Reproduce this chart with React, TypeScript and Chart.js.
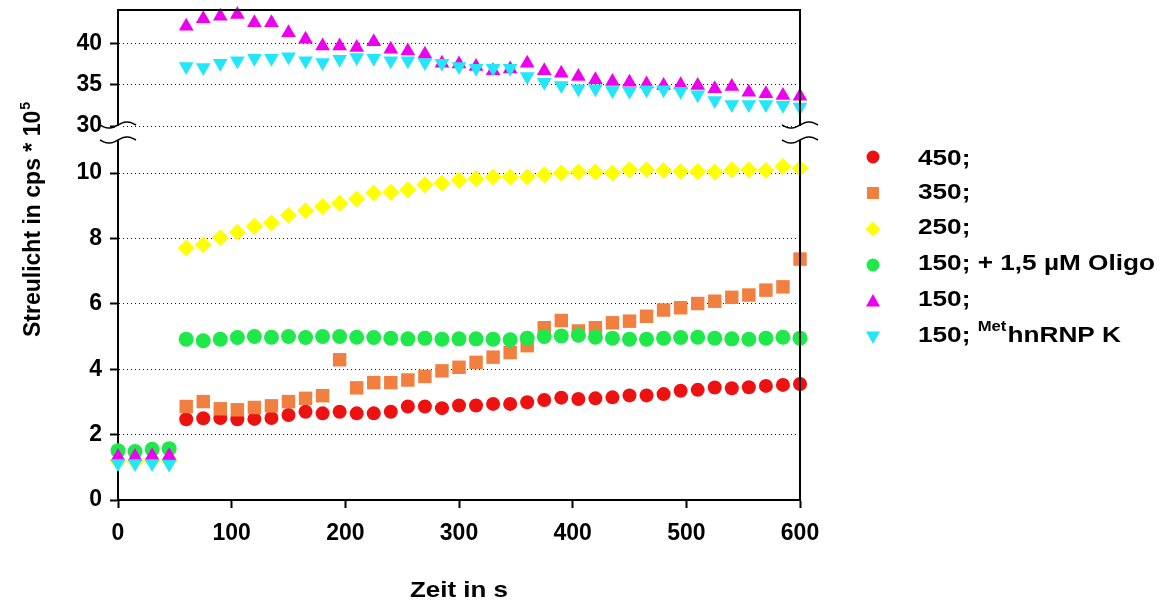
import React, { useEffect, useRef } from 'react';
import { Chart, registerables } from 'chart.js';

Chart.register(...registerables);

const FONT = '"Liberation Sans", Arial, Helvetica, sans-serif';

// time axis (s)
const timesEarly = [0, 15, 30, 45];
const times = [60, 75, 90, 105, 120, 135, 150, 165, 180, 195, 210, 225, 240, 255, 270, 285, 300, 315, 330, 345, 360, 375, 390, 405, 420, 435, 450, 465, 480, 495, 510, 525, 540, 555, 570, 585, 600];

// series values (Streulicht in cps * 10^5)
const red450 = [2.47, 2.5, 2.51, 2.47, 2.48, 2.51, 2.6, 2.7, 2.65, 2.7, 2.65, 2.65, 2.7, 2.86, 2.86, 2.81, 2.89, 2.89, 2.94, 2.94, 2.99, 3.06, 3.13, 3.09, 3.11, 3.14, 3.2, 3.2, 3.24, 3.34, 3.37, 3.44, 3.42, 3.45, 3.49, 3.52, 3.55];
const orange350 = [2.86, 3.01, 2.79, 2.76, 2.83, 2.88, 3.01, 3.11, 3.19, 4.29, 3.43, 3.59, 3.59, 3.67, 3.78, 3.95, 4.06, 4.21, 4.37, 4.51, 4.72, 5.27, 5.49, 5.17, 5.27, 5.42, 5.47, 5.62, 5.81, 5.88, 6.01, 6.08, 6.2, 6.27, 6.42, 6.52, 7.37];
const yellow250 = [7.71, 7.81, 8.02, 8.19, 8.37, 8.47, 8.71, 8.85, 8.98, 9.08, 9.21, 9.39, 9.41, 9.49, 9.64, 9.69, 9.78, 9.83, 9.88, 9.88, 9.88, 9.95, 10.0, 10.03, 10.03, 10.0, 10.1, 10.1, 10.08, 10.05, 10.05, 10.03, 10.1, 10.1, 10.08, 10.2, 10.15];
const green150Oligo = [4.92, 4.87, 4.92, 4.97, 5.0, 4.98, 5.0, 4.97, 5.0, 5.0, 4.98, 4.97, 4.95, 4.93, 4.95, 4.92, 4.93, 4.93, 4.92, 4.9, 4.95, 5.0, 5.02, 5.04, 4.98, 4.95, 4.92, 4.92, 4.95, 4.97, 4.98, 4.95, 4.93, 4.92, 4.95, 4.98, 4.95];
const magenta150 = [42.1, 43.0, 43.3, 43.5, 42.5, 42.5, 41.3, 40.5, 39.7, 39.7, 39.5, 40.2, 39.3, 39.1, 38.7, 37.6, 37.5, 37.2, 36.7, 36.9, 37.6, 36.7, 36.4, 36.0, 35.6, 35.4, 35.3, 35.1, 34.9, 35.0, 34.9, 34.5, 34.8, 34.1, 33.9, 33.7, 33.6];
const cyan150Met = [37.2, 37.1, 37.6, 37.9, 38.2, 38.2, 38.4, 37.9, 37.7, 38.1, 38.3, 38.2, 37.9, 37.9, 37.7, 37.6, 37.2, 37.0, 37.0, 37.0, 36.0, 35.3, 34.9, 34.5, 34.5, 34.3, 34.2, 34.4, 34.4, 34.2, 33.8, 33.1, 32.6, 32.6, 32.6, 32.5, 32.3];

// values before addition (0-45 s)
const yellowEarly = [1.18, 1.18, 1.2, 1.2];
const greenEarly = [1.51, 1.48, 1.55, 1.57];
const magentaEarly = [1.33, 1.33, 1.35, 1.35];
const cyanEarly = [1.12, 1.12, 1.12, 1.1];

// ticks
const xTicks = [0, 100, 200, 300, 400, 500, 600];
const yLowerTicks = [0, 2, 4, 6, 8, 10];
const yUpperTicks = [30, 35, 40];

// titles
const xTitle = 'Zeit in s';
const yTitle = 'Streulicht in cps * 10';
const yTitleSup = '5';

// legend
const legendLabels: { t: string; sup?: boolean }[][] = [
  [{ t: '450;' }],
  [{ t: '350;' }],
  [{ t: '250;' }],
  [{ t: '150; + 1,5 µM Oligo' }],
  [{ t: '150;' }],
  [{ t: '150; ' }, { t: 'Met', sup: true }, { t: 'hnRNP K' }],
];
const legendColors = ['#ee1111', '#f07f40', '#ffff00', '#1ee84a', '#ee00ee', '#22e6fa'];
const legendShapes = ['circle', 'rect', 'diamond', 'circle', 'up', 'down'];

const toPts = (xs: number[], ys: number[]) => xs.map((x, i) => ({ x, y: ys[i] }));

function drawMarker(ctx: CanvasRenderingContext2D, shape: string, x: number, y: number, r: number, color: string) {
  ctx.fillStyle = color;
  ctx.beginPath();
  if (shape === 'circle') ctx.arc(x, y, r, 0, Math.PI * 2);
  else if (shape === 'rect') ctx.rect(x - r, y - r, 2 * r, 2 * r);
  else if (shape === 'diamond') {
    ctx.moveTo(x, y - r); ctx.lineTo(x + r, y); ctx.lineTo(x, y + r); ctx.lineTo(x - r, y); ctx.closePath();
  } else if (shape === 'up') {
    ctx.moveTo(x, y - r); ctx.lineTo(x + r, y + r * 0.8); ctx.lineTo(x - r, y + r * 0.8); ctx.closePath();
  } else if (shape === 'down') {
    ctx.moveTo(x, y + r); ctx.lineTo(x + r, y - r * 0.8); ctx.lineTo(x - r, y - r * 0.8); ctx.closePath();
  }
  ctx.fill();
}

function drawBreak(ctx: CanvasRenderingContext2D, x: number, y: number) {
  ctx.beginPath();
  const hw = 18;
  for (let i = 0; i <= 40; i++) {
    const t = -1 + (2 * i) / 40;
    const px = x + t * hw;
    const py = y - 3 * Math.sin(Math.PI * t);
    if (i === 0) ctx.moveTo(px, py); else ctx.lineTo(px, py);
  }
  ctx.stroke();
}

// draw a run of text segments, stretched horizontally by sx
function drawSegs(ctx: CanvasRenderingContext2D, segs: { t: string; sup?: boolean }[], x: number, base: number, size: number, sx: number) {
  ctx.save();
  ctx.translate(x, base);
  ctx.scale(sx, 1);
  let cx = 0;
  segs.forEach((s) => {
    ctx.font = s.sup ? `bold ${Math.round(size * 0.62)}px ${FONT}` : `bold ${size}px ${FONT}`;
    ctx.fillText(s.t, cx, s.sup ? -size * 0.5 : 0);
    cx += ctx.measureText(s.t).width + (s.sup ? 1 : 0);
  });
  ctx.restore();
}

const decorPlugin = {
  id: 'decor',
  afterDraw(chart: any) {
    const { ctx, chartArea } = chart;
    const { left, right, top, bottom } = chartArea;
    ctx.save();
    // frame top / right
    ctx.strokeStyle = '#000';
    ctx.lineWidth = 2;
    ctx.beginPath();
    ctx.moveTo(left - 1, top);
    ctx.lineTo(right, top);
    ctx.lineTo(right, bottom);
    ctx.stroke();
    // axis break
    const yb = chart.scales.y2.bottom;
    const b1 = yb - 1;
    const b2 = yb + 14;
    ctx.fillStyle = '#fff';
    ctx.fillRect(left - 3, b1 + 1, 6, b2 - b1 - 1);
    ctx.fillRect(right - 3, b1 + 1, 6, b2 - b1 - 1);
    ctx.lineWidth = 1.5;
    drawBreak(ctx, left, b1);
    drawBreak(ctx, left, b2);
    drawBreak(ctx, right, b1);
    drawBreak(ctx, right, b2);

    ctx.fillStyle = '#000';
    ctx.textAlign = 'left';
    ctx.textBaseline = 'alphabetic';

    // y axis title with superscript
    ctx.save();
    ctx.translate(40, 337);
    ctx.rotate(-Math.PI / 2);
    ctx.font = `bold 23px ${FONT}`;
    ctx.fillText(yTitle, 0, 0);
    const w = ctx.measureText(yTitle).width;
    ctx.font = `bold 14px ${FONT}`;
    ctx.fillText(yTitleSup, w + 1, -10);
    ctx.restore();

    // x axis title
    ctx.font = `bold 22px ${FONT}`;
    const xw = ctx.measureText(xTitle).width;
    const xsx = 1.18;
    drawSegs(ctx, [{ t: xTitle }], (left + right) / 2 - (xw * xsx) / 2, 597, 22, xsx);

    // legend
    const markY = [157, 193, 229, 265, 301, 337];
    const textY = [157, 191, 226, 262, 298, 334];
    const sizes = [6.5, 6, 7.5, 6.5, 7, 7];
    legendLabels.forEach((segs, i) => {
      drawMarker(ctx, legendShapes[i], 873, markY[i], sizes[i], legendColors[i]);
      ctx.fillStyle = '#000';
      drawSegs(ctx, segs, 918, textY[i] + 8, 22, 1.19);
    });
    ctx.restore();
  },
};

const tickFont = { family: FONT, size: 23, weight: 'bold' as const };

function yScale(min: number, max: number, weight: number, tickVals: number[]) {
  return {
    type: 'linear',
    position: 'left',
    stack: 'ystack',
    stackWeight: weight,
    min,
    max,
    afterBuildTicks: (s: any) => {
      s.ticks = tickVals.map((v) => ({ value: v }));
    },
    afterFit: (s: any) => {
      s.width = 118;
      s.paddingTop = 0;
      s.paddingBottom = 0;
    },
    border: { display: true, color: '#000', width: 2, dash: [1, 3] },
    grid: {
      color: (c: any) => (c.tick && c.tick.value === 0 ? 'rgba(0,0,0,0)' : '#111'),
      lineWidth: 1,
      drawTicks: true,
      tickLength: 8,
      tickColor: '#000',
      tickWidth: 2,
      tickBorderDash: [],
    },
    ticks: { color: '#000', font: tickFont, padding: 8 },
  };
}

export default function App() {
  const ref = useRef<HTMLCanvasElement>(null);
  useEffect(() => {
    if (!ref.current) return;
    const pt = { pointBorderWidth: 0, showLine: false, clip: false as any };
    const chart = new Chart(ref.current, {
      type: 'scatter',
      data: {
        datasets: [
          { label: '450;', data: toPts(times, red450), backgroundColor: legendColors[0], pointStyle: 'circle', pointRadius: 7, yAxisID: 'y', order: 6, ...pt },
          { label: '350;', data: toPts(times, orange350), backgroundColor: legendColors[1], pointStyle: 'rect', pointRadius: 9.5, yAxisID: 'y', order: 5, ...pt },
          { label: '250;', data: toPts(timesEarly, yellowEarly).concat(toPts(times, yellow250)), backgroundColor: legendColors[2], pointStyle: 'rectRot', pointRadius: 8.5, yAxisID: 'y', order: 4, ...pt },
          { label: '150; + 1,5 µM Oligo', data: toPts(timesEarly, greenEarly).concat(toPts(times, green150Oligo)), backgroundColor: legendColors[3], pointStyle: 'circle', pointRadius: 7.5, yAxisID: 'y', order: 3, ...pt },
          { label: '150;', data: toPts(times, magenta150), backgroundColor: legendColors[4], pointStyle: 'triangle', pointRadius: 8.5, yAxisID: 'y2', order: 2, ...pt },
          { label: '150; (0-45 s)', data: toPts(timesEarly, magentaEarly), backgroundColor: legendColors[4], pointStyle: 'triangle', pointRadius: 8.5, yAxisID: 'y', order: 2, ...pt },
          { label: '150; MethnRNP K', data: toPts(times, cyan150Met), backgroundColor: legendColors[5], pointStyle: 'triangle', rotation: 180, pointRadius: 8.5, yAxisID: 'y2', order: 1, ...pt },
          { label: '150; MethnRNP K (0-45 s)', data: toPts(timesEarly, cyanEarly), backgroundColor: legendColors[5], pointStyle: 'triangle', rotation: 180, pointRadius: 8.5, yAxisID: 'y', order: 1, ...pt },
        ] as any,
      },
      options: {
        responsive: false,
        animation: false,
        devicePixelRatio: 1,
        layout: { padding: { left: 0, right: 368, top: 10, bottom: 0 } },
        plugins: { legend: { display: false }, tooltip: { enabled: false }, title: { display: false } },
        scales: {
          x: {
            type: 'linear',
            min: 0,
            max: 600,
            afterBuildTicks: (s: any) => {
              s.ticks = xTicks.map((v) => ({ value: v }));
            },
            afterFit: (s: any) => {
              s.height = 101;
            },
            border: { display: true, color: '#000', width: 2 },
            grid: { drawOnChartArea: false, color: '#000', tickColor: '#000', tickLength: 8, tickWidth: 2 },
            ticks: { color: '#000', font: tickFont, padding: 12, maxRotation: 0 },
          },
          y: yScale(0, 11.44, 374, yLowerTicks),
          y2: yScale(30, 44.06, 116, yUpperTicks),
        } as any,
      },
      plugins: [decorPlugin],
    });
    return () => chart.destroy();
  }, []);
  return (
    <div style={{ position: 'fixed', left: 0, top: 0, width: 1168, height: 601, background: '#fff' }}>
      <canvas ref={ref} width={1168} height={601} style={{ display: 'block' }} />
    </div>
  );
}
